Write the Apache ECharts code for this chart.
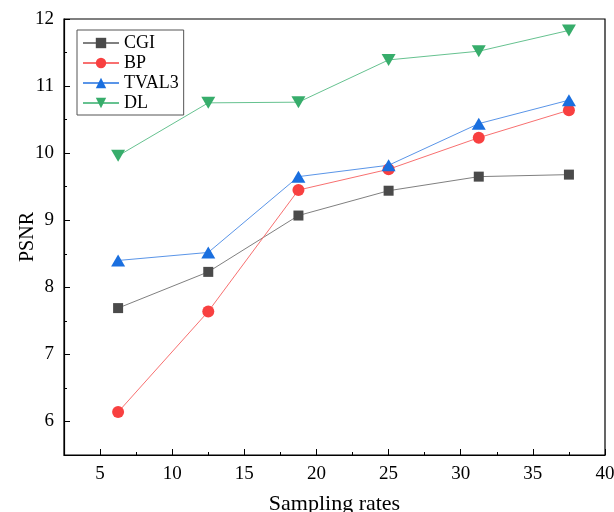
<!DOCTYPE html>
<html>
<head>
<meta charset="utf-8">
<script src="https://cdn.jsdelivr.net/npm/echarts@6/dist/echarts.min.js"></script>
<style>
  html, body { margin: 0; padding: 0; background: #fff; }
  #main { width: 614px; height: 512px; }
</style>
</head>
<body>
<div id="main"></div>
<script>
// sampling rates (x) and PSNR per method
var rates = [6.25, 12.5, 18.75, 25, 31.25, 37.5];
var cgi   = [7.69, 8.23, 9.07, 9.44, 9.65, 9.68];
var bp    = [6.14, 7.64, 9.45, 9.76, 10.23, 10.64];
var tval3 = [8.40, 8.52, 9.65, 9.82, 10.44, 10.79];
var dl    = [9.96, 10.75, 10.76, 11.39, 11.52, 11.83];

var xMajor = [5, 10, 15, 20, 25, 30, 35, 40];
var xMinor = [7.5, 12.5, 17.5, 22.5, 27.5, 32.5, 37.5];
var yMajor = [6, 7, 8, 9, 10, 11, 12];
var yMinor = [6.5, 7.5, 8.5, 9.5, 10.5, 11.5];

var font = '"Liberation Serif", "DejaVu Serif", serif';

function pairs(ys) {
    return rates.map(function (x, i) { return [x, ys[i]]; });
}

var myChart = echarts.init(document.getElementById('main'));

var option = {
    backgroundColor: '#fff',
    animation: false,
    grid: {
        left: 64, right: 9, top: 19, bottom: 57,
        outerBoundsMode: 'none',
        show: true, borderColor: '#000', borderWidth: 1.2
    },
    legend: {
        left: 77, top: 30,
        orient: 'vertical',
        padding: [4, 5, 3, 5],
        itemWidth: 36, itemHeight: 13, itemGap: 2,
        borderColor: '#555', borderWidth: 1,
        backgroundColor: '#fff',
        textStyle: { fontFamily: font, fontSize: 18, lineHeight: 18, color: '#000' },
        data: ['CGI', 'BP', 'TVAL3', 'DL']
    },
    xAxis: [{
        type: 'value', min: 2.5, max: 40,
        name: 'Sampling rates', nameLocation: 'middle', nameGap: 38,
        nameMoveOverlap: false,
        nameTextStyle: { fontFamily: font, fontSize: 22, color: '#000' },
        axisLine: { lineStyle: { color: '#000', width: 1.2 } },
        axisTick: { inside: true, length: 6, customValues: xMajor, lineStyle: { color: '#000' } },
        axisLabel: { customValues: xMajor, fontFamily: font, fontSize: 19, color: '#000', margin: 10 },
        splitLine: { show: false }
    }, {
        type: 'value', min: 2.5, max: 40, position: 'bottom',
        axisLine: { show: false },
        axisTick: { inside: true, length: 3, customValues: xMinor, lineStyle: { color: '#000' } },
        axisLabel: { show: false },
        splitLine: { show: false }
    }],
    yAxis: [{
        type: 'value', min: 5.5, max: 12,
        name: 'PSNR', nameLocation: 'middle', nameGap: 26,
        nameMoveOverlap: false,
        nameTextStyle: { fontFamily: font, fontSize: 20, color: '#000' },
        axisLine: { show: true, lineStyle: { color: '#000', width: 1.2 } },
        axisTick: { show: true, inside: true, length: 6, customValues: yMajor, lineStyle: { color: '#000' } },
        axisLabel: { customValues: yMajor, fontFamily: font, fontSize: 19, color: '#000', margin: 10 },
        splitLine: { show: false }
    }, {
        type: 'value', min: 5.5, max: 12, position: 'left',
        axisLine: { show: false },
        axisTick: { show: true, inside: true, length: 3, customValues: yMinor, lineStyle: { color: '#000' } },
        axisLabel: { show: false },
        splitLine: { show: false }
    }],
    series: [{
        name: 'CGI', type: 'line', data: pairs(cgi),
        symbol: 'rect', symbolSize: 10,
        itemStyle: { color: '#4a4a4a' },
        lineStyle: { color: '#808080', width: 1 }
    }, {
        name: 'BP', type: 'line', data: pairs(bp),
        symbol: 'circle', symbolSize: 12,
        itemStyle: { color: '#f84040' },
        lineStyle: { color: '#f87070', width: 1 }
    }, {
        name: 'TVAL3', type: 'line', data: pairs(tval3),
        symbol: 'triangle', symbolSize: [14, 12],
        itemStyle: { color: '#1a6fdf' },
        lineStyle: { color: '#5a95e8', width: 1 }
    }, {
        name: 'DL', type: 'line', data: pairs(dl),
        symbol: 'triangle', symbolSize: [14, 12], symbolRotate: 180,
        itemStyle: { color: '#37ad6b' },
        lineStyle: { color: '#66c290', width: 1 }
    }]
};

myChart.setOption(option);
</script>
</body>
</html>
